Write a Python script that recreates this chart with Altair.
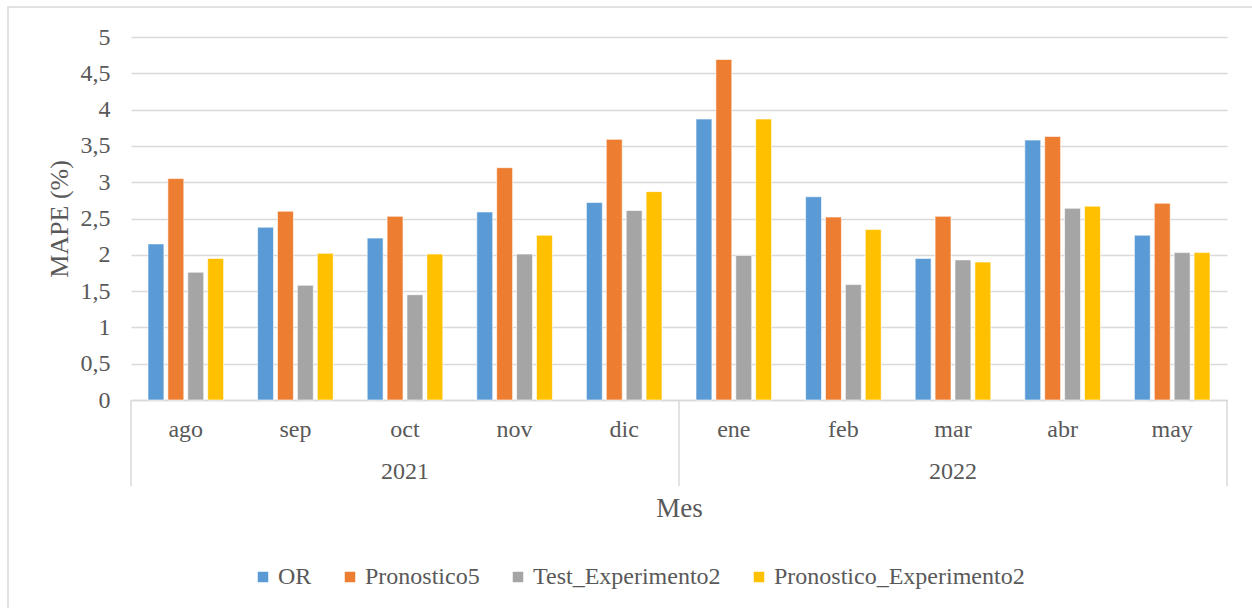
import altair as alt
import pandas as pd

months = ["ago", "sep", "oct", "nov", "dic", "ene", "feb", "mar", "abr", "may"]
years = ["2021", "2021", "2021", "2021", "2021", "2022", "2022", "2022", "2022", "2022"]
series = ["OR", "Pronostico5", "Test_Experimento2", "Pronostico_Experimento2"]
colors = ["#5B9BD5", "#ED7D31", "#A5A5A5", "#FFC000"]

or_vals = [2.15, 2.38, 2.23, 2.59, 2.72, 3.87, 2.80, 1.95, 3.58, 2.27]
pron5_vals = [3.05, 2.60, 2.53, 3.20, 3.59, 4.69, 2.52, 2.53, 3.63, 2.71]
test_exp2_vals = [1.76, 1.58, 1.45, 2.01, 2.61, 1.99, 1.59, 1.93, 2.64, 2.03]
pron_exp2_vals = [1.95, 2.02, 2.01, 2.27, 2.87, 3.87, 2.35, 1.90, 2.67, 2.03]

y_ticks = [0, 0.5, 1, 1.5, 2, 2.5, 3, 3.5, 4, 4.5, 5]
year_labels = ["2021", "2022"]
year_center_month = ["oct", "mar"]
sep_months = ["ago", "ene", "may"]
sep_side = [0, 0, 1]

FONT = "Liberation Serif"
TXT = "#595959"
GRID = "#D9D9D9"
W, H = 1096, 363
P_IN = 0.31
P_OUT = P_IN / 2
edge_px = P_OUT * W / len(months)  # gap between a band edge and its step edge

rows = []
for name, vals in zip(series, [or_vals, pron5_vals, test_exp2_vals, pron_exp2_vals]):
    for m, y, v in zip(months, years, vals):
        rows.append({"Mes": m, "Año": y, "Serie": name, "MAPE": v})
df = pd.DataFrame(rows)

xscale = alt.Scale(domain=months, paddingInner=P_IN, paddingOuter=P_OUT)

frame = alt.Chart(pd.DataFrame({"k": [0]})).mark_rect(
    filled=False, stroke=GRID, strokeWidth=1.5
).encode(
    x=alt.value(-123), x2=alt.value(W + 200), y=alt.value(-30), y2=alt.value(H + 300)
)

bars = alt.Chart(df).mark_bar(stroke="white", strokeWidth=0.6).encode(
    x=alt.X("Mes:N", scale=xscale, sort=months,
            axis=alt.Axis(title="Mes", labelFont=FONT, labelFontSize=24, labelColor=TXT,
                          labelPadding=17, labelAngle=0, ticks=False,
                          domainColor=GRID, domainWidth=1.5,
                          titleFont=FONT, titleFontSize=27, titleColor=TXT,
                          titleFontWeight="normal", titleY=108, titleBaseline="middle")),
    xOffset=alt.XOffset("Serie:N", sort=series,
                        scale=alt.Scale(domain=series, paddingInner=0.2, paddingOuter=0)),
    y=alt.Y("MAPE:Q", scale=alt.Scale(domain=[0, 5], nice=False),
            axis=alt.Axis(title="MAPE (%)", values=y_ticks,
                          labelExpr="replace(format(datum.value, '~g'), '.', ',')",
                          labelFont=FONT, labelFontSize=24, labelColor=TXT, labelPadding=21,
                          ticks=False, domain=False, gridColor=GRID, gridWidth=1.5,
                          titleFont=FONT, titleFontSize=26, titleColor=TXT,
                          titleFontWeight="normal", titleX=-72, titleY=H / 2,
                          titleAngle=270, titleAlign="center", titleBaseline="middle")),
    color=alt.Color("Serie:N", sort=series, scale=alt.Scale(domain=series, range=colors),
                    legend=alt.Legend(title=None, orient="none", direction="horizontal",
                                      legendX=120, legendY=528, symbolType="square",
                                      symbolSize=110, symbolStrokeWidth=0,
                                      labelFont=FONT, labelFontSize=24, labelColor=TXT,
                                      labelOffset=3, columnPadding=26, labelLimit=500)),
)

year_df = pd.DataFrame({"Mes": year_center_month, "Año": year_labels})
year_text = alt.Chart(year_df).mark_text(
    font=FONT, fontSize=24, color=TXT, baseline="middle", align="center"
).encode(
    x=alt.X("Mes:N", scale=xscale, sort=months),
    y=alt.value(H + 72),
    text="Año:N",
)

seps = []
for m, s in zip(sep_months, sep_side):
    off = -edge_px if s == 0 else edge_px
    seps.append(
        alt.Chart(pd.DataFrame({"Mes": [m]})).mark_rule(
            color=GRID, strokeWidth=1.5, xOffset=off
        ).encode(
            x=alt.X("Mes:N", scale=xscale, sort=months, bandPosition=s),
            y=alt.value(H), y2=alt.value(H + 86),
        )
    )

chart = alt.layer(frame, bars, year_text, *seps).properties(
    width=W, height=H,
    padding={"left": 131, "top": 37, "right": 25, "bottom": 208},
    autosize=alt.AutoSizeParams(type="none"),
    background="white",
).configure_view(stroke=None)

chart.save("out.html", embed_options={"renderer": "svg", "actions": False})
